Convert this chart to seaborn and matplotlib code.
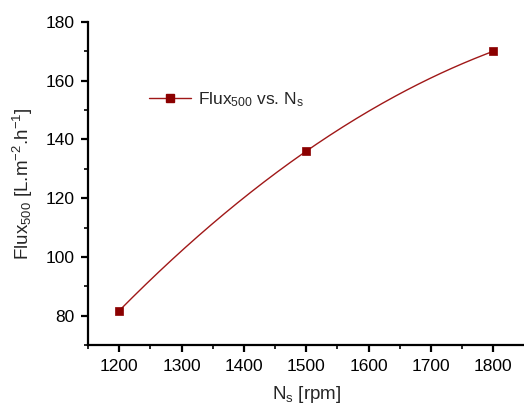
import numpy as np
import pandas as pd
import matplotlib
matplotlib.use("Agg")
import matplotlib.pyplot as plt
import seaborn as sns
from matplotlib.ticker import MultipleLocator

# Stirring speed vs permeate flux
speed_rpm = [1200, 1500, 1800]
flux_500 = [81.7, 136.0, 170.0]

df = pd.DataFrame({"Ns": speed_rpm, "Flux": flux_500})

sns.set_theme(style="ticks")
plt.rcParams["font.family"] = ["Liberation Sans", "DejaVu Sans"]
plt.rcParams["mathtext.fontset"] = "custom"
plt.rcParams["mathtext.rm"] = "Liberation Sans"
plt.rcParams["mathtext.it"] = "Liberation Sans"
plt.rcParams["mathtext.default"] = "regular"

fig = plt.figure(figsize=(5.24, 4.05), dpi=100)
ax = fig.add_axes([0.168, 0.148, 0.833, 0.798])

color = "#8b0000"
line_color = "#a01818"

# smooth curve through the measured points
coef = np.polyfit(df["Ns"], df["Flux"], 2)
xs = np.linspace(df["Ns"].min(), df["Ns"].max(), 200)
smooth = pd.DataFrame({"Ns": xs, "Flux": np.polyval(coef, xs)})
sns.lineplot(data=smooth, x="Ns", y="Flux", ax=ax, color=line_color, lw=1.0)
sns.scatterplot(data=df, x="Ns", y="Flux", ax=ax, marker="s", s=32,
                color=color, edgecolor=color, linewidth=0.5, zorder=3)

# legend entry: line with square marker
handle = plt.Line2D([], [], color=line_color, lw=1.0, marker="s",
                    markersize=5.5, markerfacecolor=color, markeredgecolor=color)
ax.legend([handle], ["Flux$_{500}$ vs. N$_s$"], loc="upper left",
          bbox_to_anchor=(0.105, 0.838), frameon=False, fontsize=12.5,
          handlelength=2.4, handletextpad=0.4)

ax.set_xlim(1150, 1850)
ax.set_ylim(70, 180)
ax.xaxis.set_major_locator(MultipleLocator(100))
ax.xaxis.set_minor_locator(MultipleLocator(50))
ax.yaxis.set_minor_locator(MultipleLocator(10))
ax.set_yticks(np.arange(80, 181, 20))

for side in ["top", "right"]:
    ax.spines[side].set_visible(False)
for side in ["left", "bottom"]:
    ax.spines[side].set_linewidth(1.6)
    ax.spines[side].set_color("black")

ax.tick_params(which="major", direction="out", length=5, width=1.6,
               labelsize=12.5, colors="black", pad=5)
ax.tick_params(which="minor", direction="out", length=3, width=1.2, colors="black")

ax.set_xlabel("N$_s$ [rpm]", fontsize=13.5, labelpad=7)
ax.set_ylabel("Flux$_{500}$ [L.m$^{-2}$.h$^{-1}$]", fontsize=13.5, labelpad=7)

fig.savefig("out.png", dpi=100)
